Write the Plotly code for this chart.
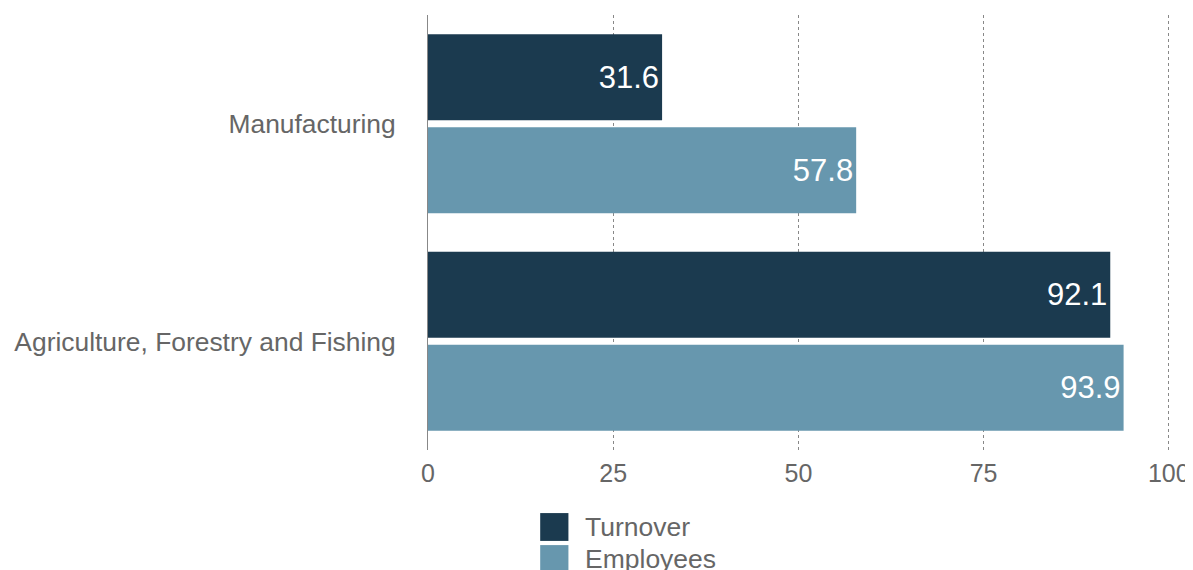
import plotly.graph_objects as go

categories = ["Manufacturing", "Agriculture, Forestry and Fishing"]
series_names = ["Turnover", "Employees"]
turnover = [31.6, 92.1]
employees = [57.8, 93.9]
colors = ["#1b3a4f", "#6797ae"]
x_ticks = [0, 25, 50, 75, 100]

FONT = "Liberation Sans, Arial, Helvetica, sans-serif"
fig = go.Figure()
for name, vals, col in zip(series_names, [turnover, employees], colors):
    fig.add_trace(go.Bar(
        y=categories, x=vals, name=name, orientation="h",
        marker=dict(color=col, line=dict(width=0)),
        text=[f"{v:.1f}" for v in vals], textposition="inside",
        insidetextanchor="end",
        textfont=dict(color="white", size=31, family=FONT),
        showlegend=False,
    ))

# page body adds an 8px margin, so the figure is sized 8px smaller
fig.update_layout(
    width=1185, height=562,
    margin=dict(l=420, r=22, t=7, b=120, autoexpand=False),
    paper_bgcolor="white", plot_bgcolor="white",
    barmode="group", bargap=0.145, bargroupgap=0.075,
    font=dict(family=FONT, color="#666666", size=25),
    xaxis=dict(range=[0, 100.3], tickvals=x_ticks, showgrid=True,
               gridcolor="#888888", griddash="dot", gridwidth=1,
               zeroline=False, showline=False, ticks="", automargin=False,
               tickfont=dict(size=25, color="#666666"), ticklabelstandoff=6),
    yaxis=dict(autorange="reversed", showline=True, linecolor="#888888",
               linewidth=1, ticks="", showgrid=False, automargin=False,
               tickfont=dict(size=26.4, color="#666666"), ticklabelstandoff=26),
)

# legend drawn as paper-positioned swatches and labels
for i, (name, col) in enumerate(zip(series_names, colors)):
    y0 = -0.145 - i * 0.0736
    fig.add_shape(type="rect", xref="paper", yref="paper",
                  x0=0.151, x1=0.189, y0=y0 - 0.064, y1=y0,
                  fillcolor=col, line=dict(width=0))
    fig.add_annotation(xref="paper", yref="paper", x=0.209, y=y0 - 0.032,
                       text=name, showarrow=False, xanchor="left", yanchor="middle",
                       font=dict(size=26.5, color="#666666", family=FONT))

fig.write_html("out.html")
